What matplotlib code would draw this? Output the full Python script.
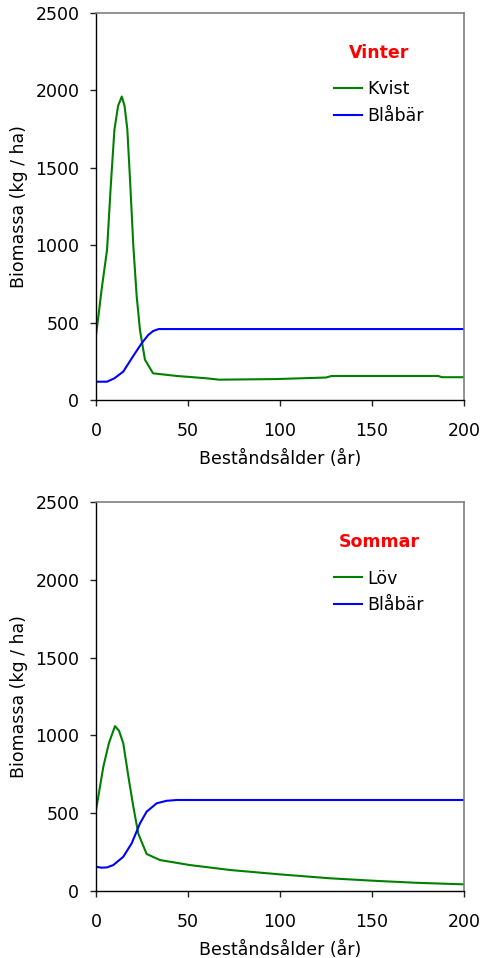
import matplotlib
matplotlib.use("Agg")
import matplotlib.pyplot as plt

# ---- data ----
kvist_age = [0, 1.5, 3, 4.5, 6, 8, 10, 12, 14, 15.5, 17, 18.5, 20.3, 22.1, 23.9, 26.6, 31, 44, 60, 67, 98, 125, 128, 186, 188, 200]
kvist = [420, 560, 710, 840, 970, 1380, 1745, 1900, 1960, 1900, 1750, 1420, 990, 670, 450, 260, 172, 155, 140, 131, 135, 145, 155, 155, 147, 147]

blabar_v_age = [0, 6, 10, 14.8, 20, 24.8, 28.4, 31, 34, 200]
blabar_v = [118, 118, 140, 183, 280, 366, 420, 445, 458, 458]

lov_age = [0, 4, 7, 10.3, 12.5, 14.8, 17.6, 20.3, 23, 27.5, 34.8, 51, 73, 100, 127, 151, 174, 200]
lov = [520, 800, 950, 1060, 1030, 950, 735, 540, 368, 238, 199, 167, 135, 107, 82, 66, 53, 43]

blabar_s_age = [0, 3, 6, 9.4, 14.8, 19.4, 23.9, 27.5, 33, 38.4, 44, 200]
blabar_s = [156, 150, 152, 167, 220, 307, 435, 510, 564, 580, 585, 585]

x_ticks = [0, 50, 100, 150, 200]
y_ticks = [0, 500, 1000, 1500, 2000, 2500]
xlabel = "Beståndsålder (år)"
ylabel = "Biomassa (kg / ha)"

GREEN = "#008000"
BLUE = "#0000FF"

plt.rcParams['font.family'] = ['DejaVu Sans']
plt.rcParams['font.size'] = 12.5

fig = plt.figure(figsize=(4.82, 9.58), dpi=100)
ax1 = fig.add_axes([0.1992, 0.5825, 0.7635, 0.4040])
ax2 = fig.add_axes([0.1992, 0.0699, 0.7635, 0.4061])

panels = [
    (ax1, "Vinter", kvist_age, kvist, "Kvist", blabar_v_age, blabar_v),
    (ax2, "Sommar", lov_age, lov, "Löv", blabar_s_age, blabar_s),
]

for ax, title, ga, gv, glab, ba, bv in panels:
    ax.plot(ga, gv, color=GREEN, lw=1.5, label=glab)
    ax.plot(ba, bv, color=BLUE, lw=1.5, label="Blåbär")
    ax.set_xlim(0, 200)
    ax.set_ylim(0, 2500)
    ax.set_xticks(x_ticks)
    ax.set_yticks(y_ticks)
    ax.tick_params(direction='out', length=4, width=1, color='#222222')
    ax.tick_params(axis='x', pad=12)
    ax.tick_params(axis='y', pad=8)
    for s in ['left', 'bottom']:
        ax.spines[s].set_color('black')
        ax.spines[s].set_linewidth(1.0)
    for s in ['top', 'right']:
        ax.spines[s].set_color('#808080')
        ax.spines[s].set_linewidth(1.2)
    ax.set_xlabel(xlabel, labelpad=7)
    ax.set_ylabel(ylabel, labelpad=5)
    leg = ax.legend(loc='upper left', bbox_to_anchor=(0.628, 0.937), frameon=False,
                    title=title, handlelength=1.6, handletextpad=0.3,
                    labelspacing=0.5, borderaxespad=0)
    t = leg.get_title()
    t.set_color('red')
    t.set_fontweight('bold')
    leg._legend_box.sep = 13

fig.savefig("out.png", dpi=100)
